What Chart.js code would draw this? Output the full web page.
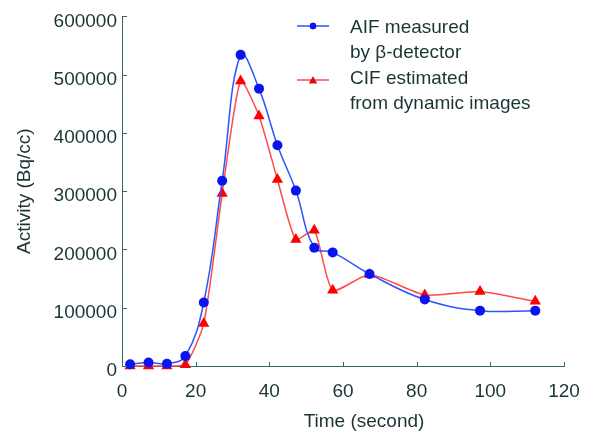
<!DOCTYPE html>
<html>
<head>
<meta charset="utf-8">
<script src="https://cdn.jsdelivr.net/npm/chart.js@4"></script>
<style>
  html, body { margin: 0; padding: 0; background: #fff; }
  #wrap { width: 602px; height: 433px; }
</style>
</head>
<body>
<div id="wrap"><canvas id="c" width="602" height="433"></canvas></div>
<script>
// ---- data ----
const times = [2.2, 7.2, 12.2, 17.2, 22.2, 27.2, 32.2, 37.2, 42.2, 47.2, 52.2, 57.2, 67.2, 82.2, 97.2, 112.2];
const aifValues = [3000, 6000, 4000, 17000, 109000, 318000, 534000, 476000, 379000, 301000, 203000, 195000, 158000, 114000, 95000, 95000];
const cifValues = [0, 0, 0, 2000, 73000, 296000, 489000, 429000, 320000, 217000, 233000, 130000, 157000, 122000, 128000, 111000];
const aifLabel = ["AIF measured", "by \u03B2-detector"];
const cifLabel = ["CIF estimated", "from dynamic images"];
const xTitle = "Time (second)";
const yTitle = "Activity (Bq/cc)";
const xTicks = [0, 20, 40, 60, 80, 100, 120];
const yTicks = [0, 100000, 200000, 300000, 400000, 500000, 600000];

const FONT = "'Liberation Sans', Arial, sans-serif";
const TEXT = '#1b3535';
const AXIS = '#2f6b6b';

const toPts = (xs, ys) => xs.map((x, i) => ({ x: x, y: ys[i] }));

const tickPlugin = {
  id: 'ticksAndLegend',
  afterDraw(chart) {
    const ctx = chart.ctx;
    const xs = chart.scales.x, ys = chart.scales.y;
    const area = chart.chartArea;
    ctx.save();
    ctx.strokeStyle = AXIS;
    ctx.lineWidth = 1;
    // inward tick marks
    yTicks.forEach(v => {
      const p = Math.round(ys.getPixelForValue(v)) + 0.5;
      ctx.beginPath(); ctx.moveTo(area.left, p); ctx.lineTo(area.left + 5, p); ctx.stroke();
    });
    xTicks.forEach(v => {
      const p = Math.round(xs.getPixelForValue(v)) + 0.5;
      ctx.beginPath(); ctx.moveTo(p, area.bottom); ctx.lineTo(p, area.bottom - 4); ctx.stroke();
    });
    // x title
    ctx.fillStyle = TEXT;
    ctx.font = '19px ' + FONT;
    ctx.textAlign = 'center';
    ctx.textBaseline = 'alphabetic';
    ctx.fillText(xTitle, 364, 427);
    // legend
    const items = [
      { ds: chart.data.datasets[0], lines: aifLabel, y: 26, ty: 33 },
      { ds: chart.data.datasets[1], lines: cifLabel, y: 80, ty: 84 }
    ];
    ctx.textAlign = 'left';
    items.forEach(it => {
      ctx.strokeStyle = it.ds.borderColor;
      ctx.lineWidth = 1.5;
      ctx.beginPath(); ctx.moveTo(297, it.y); ctx.lineTo(329, it.y); ctx.stroke();
      Chart.helpers.drawPoint(ctx, {
        pointStyle: it.ds.pointStyle,
        radius: it.ds.pointStyle === 'triangle' ? 4.5 : 3.2,
        rotation: 0,
        borderWidth: 0
      }, 313, it.ds.pointStyle === 'triangle' ? it.y + 1 : it.y);
      ctx.fillStyle = it.ds.pointBackgroundColor;
      ctx.fill();
      ctx.fillStyle = TEXT;
      it.lines.forEach((t, i) => ctx.fillText(t, 350, it.ty + i * 25));
    });
    ctx.restore();
  }
};

new Chart(document.getElementById('c'), {
  type: 'line',
  data: {
    datasets: [
      {
        label: aifLabel.join(' '),
        data: toPts(times, aifValues),
        borderColor: '#2a55ff',
        borderWidth: 1.5,
        pointStyle: 'circle',
        pointRadius: 5,
        pointBorderWidth: 0,
        pointBackgroundColor: '#0a14f0',
        pointBorderColor: '#0a14f0',
        tension: 0.4,
        clip: false
      },
      {
        label: cifLabel.join(' '),
        data: toPts(times, cifValues),
        borderColor: '#ff4a4a',
        borderWidth: 1.5,
        pointStyle: 'triangle',
        pointRadius: 6.5,
        pointBorderWidth: 0,
        pointBackgroundColor: '#ff0000',
        pointBorderColor: '#ff0000',
        tension: 0.2,
        clip: false
      }
    ]
  },
  options: {
    responsive: false,
    animation: false,
    devicePixelRatio: 1,
    layout: { padding: { left: 0, right: 38, top: 13, bottom: 0 } },
    plugins: { legend: { display: false }, tooltip: { enabled: false } },
    scales: {
      x: {
        type: 'linear',
        min: 0, max: 120,
        afterFit(s) { s.height = 67; },
        afterBuildTicks(s) { s.ticks = xTicks.map(v => ({ value: v })); },
        grid: { display: false, drawTicks: false },
        border: { display: true, color: AXIS, width: 1 },
        ticks: { color: TEXT, font: { family: FONT, size: 19 }, padding: 14, maxRotation: 0 }
      },
      y: {
        type: 'linear',
        min: 0, max: 600000,
        afterFit(s) { s.width = 122; },
        afterBuildTicks(s) { s.ticks = yTicks.map(v => ({ value: v })); },
        grid: { display: false, drawTicks: false },
        border: { display: true, color: AXIS, width: 1 },
        ticks: {
          color: TEXT, font: { family: FONT, size: 19 }, padding: 5, labelOffset: 5,
          callback: v => String(v)
        },
        title: {
          display: true, text: yTitle, color: TEXT,
          font: { family: FONT, size: 19 }, padding: { top: 13, bottom: 0 }
        }
      }
    }
  },
  plugins: [tickPlugin]
});
</script>
</body>
</html>
